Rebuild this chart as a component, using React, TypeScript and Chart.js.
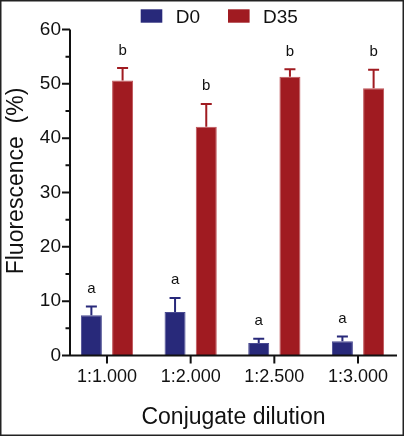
import { useEffect, useRef } from 'react';
import { Chart, registerables } from 'chart.js';

Chart.register(...registerables);

// Dilutions tested and mean fluorescence (%) with SD for each time point
const categories = ['1:1.000', '1:2.000', '1:2.500', '1:3.000'];
const seriesNames = ['D0', 'D35'];
const d0Values = [7.4, 8.0, 2.3, 2.6];
const d0Errors = [1.6, 2.6, 0.8, 0.9];
const d35Values = [50.6, 42.1, 51.3, 49.2];
const d35Errors = [2.3, 4.2, 1.4, 3.4];
const d0Letters = ['a', 'a', 'a', 'a'];
const d35Letters = ['b', 'b', 'b', 'b'];
const yMax = 60;
const xTitle = 'Conjugate dilution';
const yTitle = 'Fluorescence  (%)';

const BLUE = '#28297a';
const RED = '#a01b21';
const INK = '#111111';
const FONT = '"Liberation Sans", Arial, Helvetica, sans-serif';

const errors = [d0Errors, d35Errors];
const letters = [d0Letters, d35Letters];
const colors = [BLUE, RED];

const decorations = {
  id: 'decorations',
  afterDatasetsDraw(chart: any) {
    const { ctx } = chart;
    const y = chart.scales.y;
    ctx.save();
    chart.data.datasets.forEach((ds: any, di: number) => {
      const meta = chart.getDatasetMeta(di);
      meta.data.forEach((bar: any, i: number) => {
        const v = ds.data[i].y;
        const top = y.getPixelForValue(v + errors[di][i]);
        ctx.strokeStyle = colors[di];
        ctx.lineWidth = 2;
        ctx.beginPath();
        ctx.moveTo(bar.x, bar.y);
        ctx.lineTo(bar.x, top);
        ctx.moveTo(bar.x - 5.5, top);
        ctx.lineTo(bar.x + 5.5, top);
        ctx.stroke();
        ctx.fillStyle = INK;
        ctx.font = `15px ${FONT}`;
        ctx.textAlign = 'center';
        ctx.textBaseline = 'alphabetic';
        ctx.fillText(letters[di][i], bar.x, top - 13.5);
      });
    });
    ctx.restore();
  },
  afterDraw(chart: any) {
    const { ctx, chartArea: ca } = chart;
    const { x, y } = chart.scales;
    ctx.save();
    // axis lines and tick marks
    ctx.strokeStyle = INK;
    ctx.lineWidth = 2;
    ctx.beginPath();
    ctx.moveTo(ca.left, ca.top);
    ctx.lineTo(ca.left, ca.bottom + 1);
    ctx.moveTo(ca.left - 1, ca.bottom);
    ctx.lineTo(ca.right, ca.bottom);
    for (let v = 0; v <= yMax; v += 5) {
      const py = y.getPixelForValue(v);
      const len = v % 10 === 0 ? 8 : 4.5;
      ctx.moveTo(ca.left - len, py);
      ctx.lineTo(ca.left, py);
    }
    categories.forEach((_, i) => {
      const px = x.getPixelForValue(i);
      ctx.moveTo(px, ca.bottom);
      ctx.lineTo(px, ca.bottom + 8);
    });
    ctx.stroke();

    // axis titles
    ctx.fillStyle = INK;
    ctx.font = `23px ${FONT}`;
    ctx.textAlign = 'center';
    ctx.textBaseline = 'alphabetic';
    ctx.fillText(xTitle, (ca.left + ca.right) / 2, 424);
    ctx.save();
    ctx.translate(22.5, 181);
    ctx.rotate(-Math.PI / 2);
    ctx.fillText(yTitle, 0, 0);
    ctx.restore();

    // legend
    ctx.font = `19px ${FONT}`;
    ctx.textAlign = 'left';
    const boxes = [140.7, 228];
    seriesNames.forEach((name, i) => {
      ctx.fillStyle = colors[i];
      ctx.fillRect(boxes[i], 9.3, 21.6, 13.4);
      ctx.fillStyle = INK;
      ctx.fillText(name, boxes[i] + 35, 22.7);
    });

    // outer frame
    ctx.strokeStyle = '#222222';
    ctx.lineWidth = 1.5;
    ctx.strokeRect(0.75, 0.75, chart.width - 1.5, chart.height - 1.5);
    ctx.restore();
  },
};

export default function App() {
  const ref = useRef<HTMLCanvasElement | null>(null);

  useEffect(() => {
    if (!ref.current) return;
    const toPoints = (vals: number[]) => vals.map((v, i) => ({ x: i, y: v }));
    const chart = new Chart(ref.current, {
      type: 'bar',
      data: {
        datasets: [
          {
            label: seriesNames[0],
            data: toPoints(d0Values),
            backgroundColor: BLUE,
            borderColor: '#4a4b92',
            borderWidth: 1,
            borderSkipped: 'bottom',
          },
          {
            label: seriesNames[1],
            data: toPoints(d35Values),
            backgroundColor: RED,
            borderColor: '#bf5459',
            borderWidth: 1,
            borderSkipped: 'bottom',
          },
        ],
      },
      options: {
        responsive: false,
        animation: false,
        devicePixelRatio: 1,
        layout: { padding: { top: 29.5, right: 7, left: 0, bottom: 0 } },
        datasets: { bar: { categoryPercentage: 0.746, barPercentage: 0.673 } },
        plugins: { legend: { display: false }, tooltip: { enabled: false } },
        scales: {
          x: {
            type: 'linear',
            offset: false,
            min: -0.442,
            max: 3.466,
            afterBuildTicks: (scale: any) => {
              scale.ticks = categories.map((_, i) => ({ value: i }));
            },
            afterFit: (scale: any) => {
              scale.height = 80.5;
            },
            grid: { display: false, offset: false, drawTicks: true, tickLength: 8 },
            border: { display: false },
            ticks: {
              autoSkip: false,
              maxRotation: 0,
              padding: 3,
              color: INK,
              font: { family: FONT, size: 18 },
              callback: (v: any) => categories[v] ?? '',
            },
          },
          y: {
            min: 0,
            max: yMax,
            afterFit: (scale: any) => {
              scale.width = 70;
            },
            grid: { display: false, drawTicks: true, tickLength: 8 },
            border: { display: false },
            ticks: {
              stepSize: 10,
              padding: 1,
              color: INK,
              font: { family: FONT, size: 19 },
            },
          },
        },
      },
      plugins: [decorations],
    });
    return () => chart.destroy();
  }, []);

  return (
    <div style={{ position: 'fixed', left: 0, top: 0, width: 404, height: 436, background: '#fff' }}>
      <canvas ref={ref} width={404} height={436} />
    </div>
  );
}
